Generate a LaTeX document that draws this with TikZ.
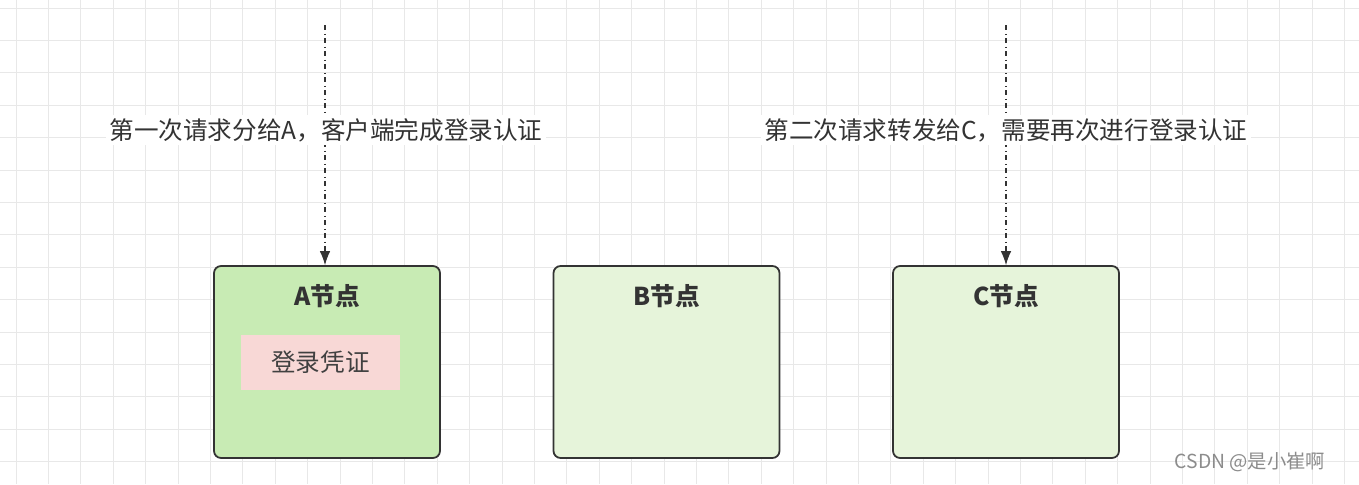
\documentclass[tikz,border=0pt]{standalone}
\usepackage{fontspec}
\setmainfont{Noto Sans CJK SC}
\usetikzlibrary{positioning,arrows.meta}
\definecolor{nodeA}{HTML}{C8EBB4}
\definecolor{nodeBC}{HTML}{E6F4DA}
\definecolor{cred}{HTML}{F8D8D6}
\tikzset{
  server/.style={draw=black!80, line width=1pt, rounded corners=4pt, minimum width=4.52cm, minimum height=3.84cm},
  title/.style={font=\fontsize{14}{16}\selectfont\bfseries, text=black!80},
  req/.style={dash dot, line width=0.6pt, draw=black!80, -{Latex[length=8pt,width=6pt]}},
  note/.style={font=\fontsize{14}{16}\selectfont, text=black!80, fill=white, inner sep=2pt}
}
\begin{document}
\begin{tikzpicture}[x=0.02cm,y=-0.02cm]
\useasboundingbox[fill=white] (0,0) rectangle (1359,484);
% background grid
\foreach \gx in {0,...,42} \draw[black!9, line width=0.5pt] (16+32.4*\gx,0) -- (16+32.4*\gx,484);
\foreach \gy in {0,...,15} \draw[black!9, line width=0.5pt] (0,8+32.4*\gy) -- (1359,8+32.4*\gy);
				\node[server, fill=nodeA] (A) at (327,362) {};
				\node[server, fill=nodeBC] (B) at (666.5,362) {};
				\node[server, fill=nodeBC] (C) at (1006,362) {};
				\node[title] (Atitle) at (327,296) {A节点};
				\node[title] (Btitle) at (666.5,296) {B节点};
				\node[title] (Ctitle) at (1006,296) {C节点};
				\node[fill=cred, minimum width=3.18cm, minimum height=1.1cm, font=\fontsize{14}{16}\selectfont, text=black!75] (credA) at (320.5,362) {登录凭证};
				\coordinate (srcA) at (325,25);
				\coordinate (srcC) at (1006,25);
				\draw[req] (srcA) -- (A.north -| srcA);
				\draw[req] (srcC) -- (C.north -| srcC);
				\node[note] (noteA) at (326,130) {第一次请求分给A，客户端完成登录认证};
				\node[note] (noteC) at (1006,130) {第二次请求转发给C，需要再次进行登录认证};
				\node[font=\fontsize{11}{13}\selectfont, text=black!45] (mark) at (1250,462) {CSDN @是小崔啊};
\end{tikzpicture}
\end{document}
